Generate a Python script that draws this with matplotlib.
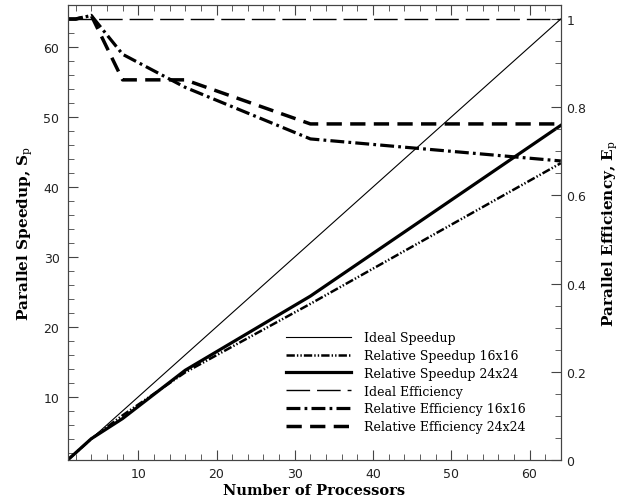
import matplotlib
matplotlib.use("Agg")
import matplotlib.pyplot as plt
from matplotlib.ticker import MultipleLocator, FixedLocator

plt.rcParams['lines.scale_dashes'] = False
plt.rcParams['mathtext.fontset'] = 'dejavuserif'

# processor counts
procs = [1, 2, 4, 8, 16, 32, 64]

ideal_speedup = [1, 64]
ideal_procs = [1, 64]
speedup_16 = [1, 2.0, 4.0, 7.36, 13.5, 23.3, 43.4]
speedup_24 = [1, 2.0, 4.02, 6.9, 13.8, 24.4, 48.8]

ideal_eff = [1.0, 1.0]
eff_16 = [1.0, 1.0, 1.008, 0.92, 0.845, 0.728, 0.678]
eff_24 = [1.0, 1.0, 1.008, 0.862, 0.862, 0.762, 0.762]

serif = 'DejaVu Serif'

fig = plt.figure(figsize=(6.28, 5.02), dpi=100)
ax = fig.add_axes([0.108, 0.082, 0.785, 0.906])
ax2 = ax.twinx()

l1, = ax.plot(ideal_procs, ideal_speedup, color='black', lw=0.8, label='Ideal Speedup')
l2, = ax.plot(procs, speedup_16, color='black', lw=1.8,
              dashes=(6, 1.5, 1, 1.5, 1, 1.5), label='Relative Speedup 16x16')
l3, = ax.plot(procs, speedup_24, color='black', lw=2.3, label='Relative Speedup 24x24')
l4, = ax2.plot(ideal_procs, ideal_eff, color='black', lw=1.0,
               dashes=(17, 5), label='Ideal Efficiency')
l5, = ax2.plot(procs, eff_16, color='black', lw=2.3,
               dashes=(10, 3, 2, 3), label='Relative Efficiency 16x16')
l6, = ax2.plot(procs, eff_24, color='black', lw=2.5,
               dashes=(11, 6), label='Relative Efficiency 24x24')

ax.set_xlim(1, 64)
ax.set_ylim(1, 66)
ax2.set_ylim(0, 65 / 63)

ax.xaxis.set_major_locator(FixedLocator([10, 20, 30, 40, 50, 60]))
ax.xaxis.set_minor_locator(MultipleLocator(2))
ax.yaxis.set_major_locator(FixedLocator([10, 20, 30, 40, 50, 60]))
ax.yaxis.set_minor_locator(MultipleLocator(2))
ax2.yaxis.set_major_locator(FixedLocator([0, 0.2, 0.4, 0.6, 0.8, 1.0]))
ax2.yaxis.set_minor_locator(MultipleLocator(0.05))
ax2.set_yticklabels(['0', '0.2', '0.4', '0.6', '0.8', '1'])

ax.tick_params(which='both', direction='in', top=True, right=False,
               labelsize=9, labelcolor='#222222', color='#444444')
ax.tick_params(which='major', length=7.5, width=0.8)
ax.tick_params(which='minor', length=4.5, width=0.6)
ax.tick_params(axis='y', pad=6)
ax.tick_params(axis='x', pad=5)
ax2.tick_params(which='both', direction='in', labelsize=9,
                labelcolor='#222222', color='#444444', pad=4)
ax2.tick_params(which='major', length=7.5, width=0.8)
ax2.tick_params(which='minor', length=4.5, width=0.6)

for a in (ax, ax2):
    for s in a.spines.values():
        s.set_linewidth(0.8)
        s.set_color('#444444')

ax.set_xlabel('Number of Processors', family=serif, fontweight='bold', fontsize=10.5, labelpad=2)
ax.set_ylabel(r'Parallel Speedup, S$_\mathrm{p}$', family=serif, fontweight='bold', fontsize=11, labelpad=6)
ax2.set_ylabel(r'Parallel Efficiency, E$_\mathrm{p}$', family=serif, fontweight='bold', fontsize=11, labelpad=10)

leg = ax2.legend(handles=[l1, l2, l3, l4, l5, l6], loc='lower left',
                 bbox_to_anchor=(0.43, 0.045), frameon=False,
                 prop={'family': serif, 'size': 9}, handlelength=5.2,
                 handletextpad=1.0, labelspacing=0.38, borderpad=0)

fig.savefig('out.png', dpi=100)
